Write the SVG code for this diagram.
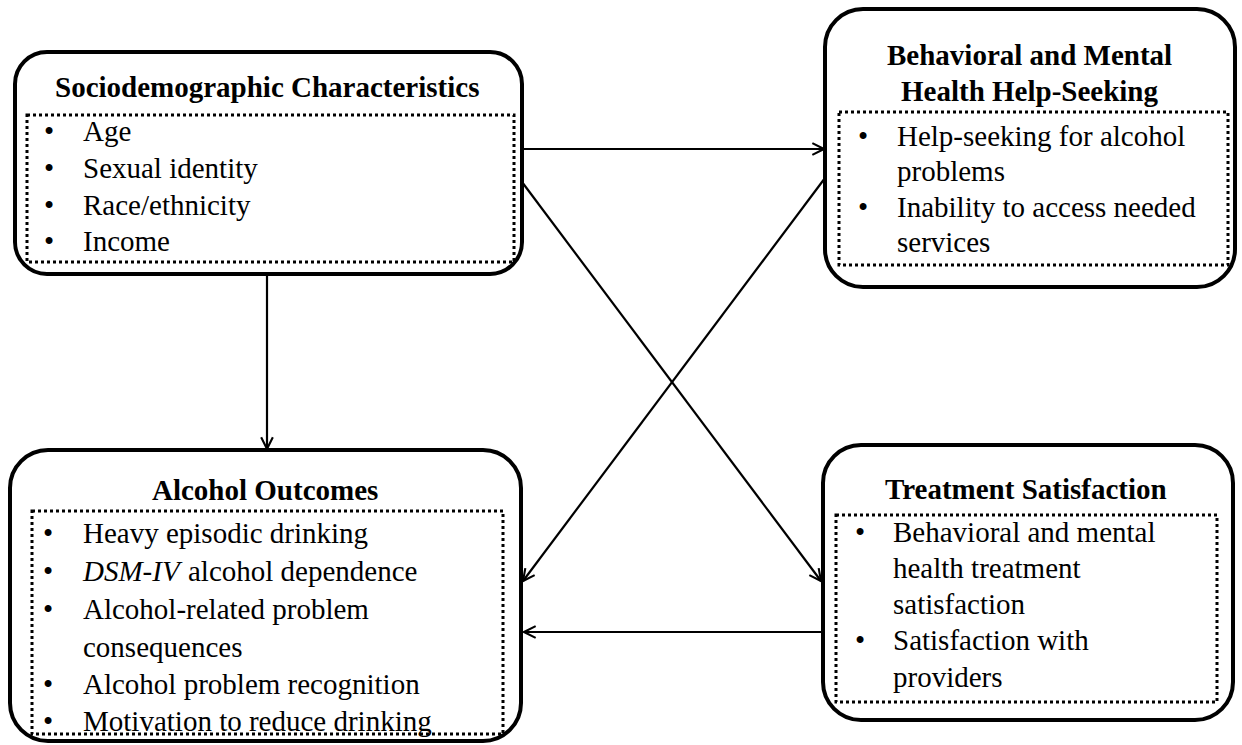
<svg xmlns="http://www.w3.org/2000/svg" width="1242" height="745" viewBox="0 0 1242 745">
<style>
.box{fill:none;stroke:#000;stroke-width:4}
.dot{fill:none;stroke:#000;stroke-width:3;stroke-dasharray:3 3}
.c{fill:none;stroke:#000;stroke-width:2.2}
</style>
<defs>
<marker id="ah" viewBox="0 0 12 12" refX="11" refY="6" markerWidth="14" markerHeight="14" markerUnits="userSpaceOnUse" orient="auto">
<path d="M1,1 L11,6 L1,11" fill="none" stroke="#000" stroke-width="1.8"/>
</marker>
</defs>
<rect width="1242" height="745" fill="#fff"/>
<g id="connectors">
<line class="c" x1="522" y1="149" x2="824" y2="149" marker-end="url(#ah)"/>
<line class="c" x1="522" y1="182" x2="821" y2="581" marker-end="url(#ah)"/>
<line class="c" x1="825" y1="178" x2="523" y2="581" marker-end="url(#ah)"/>
<line class="c" x1="823" y1="632" x2="524" y2="632" marker-end="url(#ah)"/>
<line class="c" x1="267" y1="274" x2="267" y2="449" marker-end="url(#ah)"/>
</g>
<g id="sociodemographic">
<rect class="box" x="15" y="52" width="507" height="222" rx="32"/>
<rect class="dot" x="27" y="115" width="487" height="147"/>
<text font-family="Liberation Serif" font-size="29" font-weight="bold" x="55" y="97">Sociodemographic Characteristics</text>
<text font-family="Liberation Serif" font-size="29" x="44" y="141">•</text><text font-family="Liberation Serif" font-size="29" x="83" y="141">Age</text>
<text font-family="Liberation Serif" font-size="29" x="44" y="178">•</text><text font-family="Liberation Serif" font-size="29" x="83" y="178">Sexual identity</text>
<text font-family="Liberation Serif" font-size="29" x="44" y="215">•</text><text font-family="Liberation Serif" font-size="29" x="83" y="215">Race/ethnicity</text>
<text font-family="Liberation Serif" font-size="29" x="44" y="251">•</text><text font-family="Liberation Serif" font-size="29" x="83" y="251">Income</text>
</g>
<g id="helpseeking">
<rect class="box" x="825" y="9" width="410" height="278" rx="38"/>
<rect class="dot" x="839" y="112" width="389" height="153"/>
<text font-family="Liberation Serif" font-size="29" font-weight="bold" x="887" y="65">Behavioral and Mental</text>
<text font-family="Liberation Serif" font-size="29" font-weight="bold" x="901" y="101">Health Help-Seeking</text>
<text font-family="Liberation Serif" font-size="29" x="858" y="146">•</text><text font-family="Liberation Serif" font-size="29" x="897" y="146">Help-seeking for alcohol</text>
<text font-family="Liberation Serif" font-size="29" x="897" y="181">problems</text>
<text font-family="Liberation Serif" font-size="29" x="858" y="217">•</text><text font-family="Liberation Serif" font-size="29" x="897" y="217">Inability to access needed</text>
<text font-family="Liberation Serif" font-size="29" x="897" y="252">services</text>
</g>
<g id="alcohol-outcomes">
<rect class="box" x="10" y="450" width="511" height="291" rx="38"/>
<rect class="dot" x="32" y="511" width="471" height="223"/>
<text font-family="Liberation Serif" font-size="29" font-weight="bold" x="152" y="500">Alcohol Outcomes</text>
<text font-family="Liberation Serif" font-size="29" x="43" y="543">•</text><text font-family="Liberation Serif" font-size="29" x="83" y="543">Heavy episodic drinking</text>
<text font-family="Liberation Serif" font-size="29" x="43" y="581">•</text><text font-family="Liberation Serif" font-size="29" font-style="italic" x="83" y="581">DSM-IV</text><text font-family="Liberation Serif" font-size="29" x="188" y="581">alcohol dependence</text>
<text font-family="Liberation Serif" font-size="29" x="43" y="619">•</text><text font-family="Liberation Serif" font-size="29" x="83" y="619">Alcohol-related problem</text>
<text font-family="Liberation Serif" font-size="29" x="83" y="657">consequences</text>
<text font-family="Liberation Serif" font-size="29" x="43" y="694">•</text><text font-family="Liberation Serif" font-size="29" x="83" y="694">Alcohol problem recognition</text>
<text font-family="Liberation Serif" font-size="29" x="43" y="731">•</text><text font-family="Liberation Serif" font-size="29" x="83" y="731">Motivation to reduce drinking</text>
</g>
<g id="treatment-satisfaction">
<rect class="box" x="823" y="445" width="410" height="275" rx="38"/>
<rect class="dot" x="836" y="515" width="381" height="187"/>
<text font-family="Liberation Serif" font-size="29" font-weight="bold" x="885" y="499">Treatment Satisfaction</text>
<text font-family="Liberation Serif" font-size="29" x="855" y="542">•</text><text font-family="Liberation Serif" font-size="29" x="893" y="542">Behavioral and mental</text>
<text font-family="Liberation Serif" font-size="29" x="893" y="578">health treatment</text>
<text font-family="Liberation Serif" font-size="29" x="893" y="614">satisfaction</text>
<text font-family="Liberation Serif" font-size="29" x="855" y="650">•</text><text font-family="Liberation Serif" font-size="29" x="893" y="650">Satisfaction with</text>
<text font-family="Liberation Serif" font-size="29" x="893" y="687">providers</text>
</g>
</svg>
